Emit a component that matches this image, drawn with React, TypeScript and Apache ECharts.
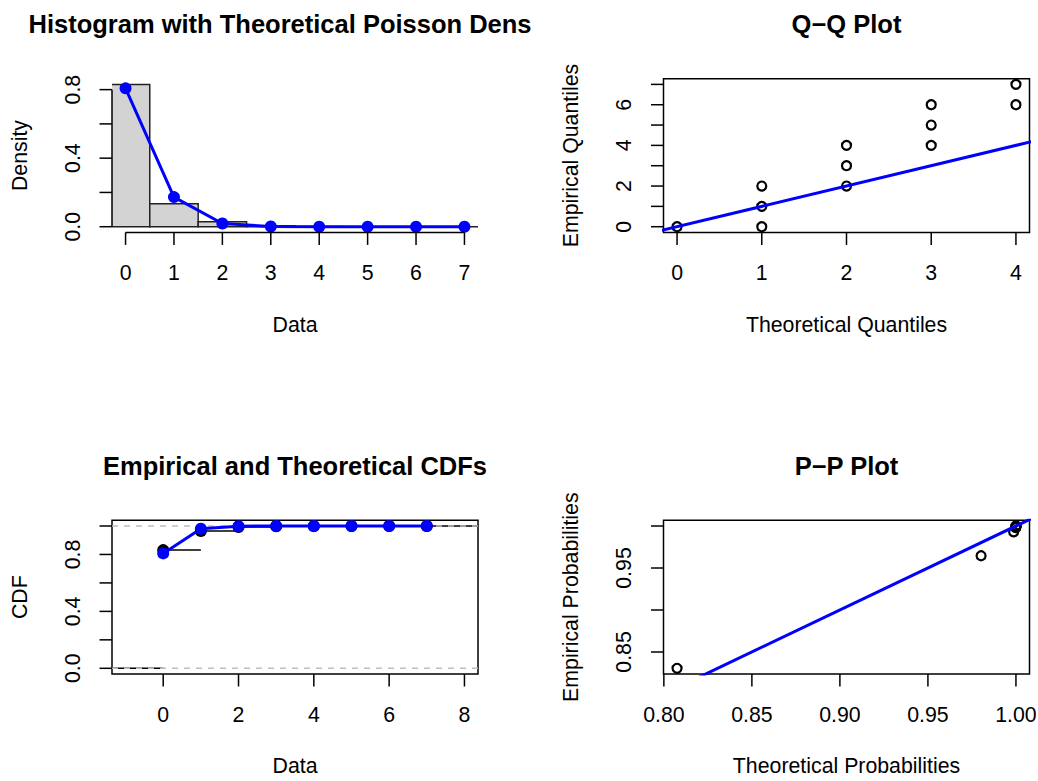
import React, { useEffect, useRef } from "react";
import * as echarts from "echarts";

// ---------------- data ----------------
const histValues = [0, 1, 2, 3, 4, 5, 6, 7];
const histBinWidth = 1;
const empDensity = [0.8306, 0.134, 0.0284, 0.005, 0.001, 0.0005, 0.0003, 0.0002];
const theoDensity = [0.8075, 0.1727, 0.0185, 0.0013, 0.0001, 0, 0, 0];

const qqTheoretical = [0, 1, 1, 1, 2, 2, 2, 3, 3, 3, 4, 4];
const qqEmpirical = [0, 0, 1, 2, 2, 3, 4, 4, 5, 6, 6, 7];

const cdfValues = [0, 1, 2, 3, 4, 5, 6, 7];
const empCdf = [0.8306, 0.9646, 0.993, 0.998, 0.999, 0.9995, 0.9998, 1];
const theoCdf = [0.8075, 0.9802, 0.9987, 0.9999, 1, 1, 1, 1];
const cdfRefLevels = [0, 1];

const ppTheoretical = [0.8075, 0.9802, 0.9987, 0.9999, 1, 1, 1, 1];
const ppEmpirical = [0.8306, 0.9646, 0.993, 0.998, 0.999, 0.9995, 0.9998, 1];

// y = x reference line (end points, clipped by the plot area)
const identityLine = [-2, 10];

// ---------------- ticks ----------------
const histXTicks = [0, 1, 2, 3, 4, 5, 6, 7];
const histXLabels = ["0", "1", "2", "3", "4", "5", "6", "7"];
const histYTicks = [0, 0.2, 0.4, 0.6, 0.8];
const histYLabels = ["0.0", "", "0.4", "", "0.8"];

const qqXTicks = [0, 1, 2, 3, 4];
const qqXLabels = ["0", "1", "2", "3", "4"];
const qqYTicks = [0, 1, 2, 3, 4, 5, 6, 7];
const qqYLabels = ["0", "", "2", "", "4", "", "6", ""];

const cdfXTicks = [0, 2, 4, 6, 8];
const cdfXLabels = ["0", "2", "4", "6", "8"];
const cdfYTicks = [0, 0.2, 0.4, 0.6, 0.8, 1.0];
const cdfYLabels = ["0.0", "", "0.4", "", "0.8", ""];

const ppXTicks = [0.8, 0.85, 0.9, 0.95, 1.0];
const ppXLabels = ["0.80", "0.85", "0.90", "0.95", "1.00"];
const ppYTicks = [0.85, 0.9, 0.95, 1.0];
const ppYLabels = ["0.85", "", "0.95", ""];

// ---------------- axis ranges (plot regions) ----------------
const histXRange = [-0.28, 7.28];
const histYRange = [-0.0332, 0.8638];
const qqXRange = [-0.16, 4.16];
const qqYRange = [-0.28, 7.28];
const cdfXRange = [-1.36, 8.36];
const cdfYRange = [-0.04, 1.04];
const ppXRange = [0.7998, 1.0077];
const ppYRange = [0.8238, 1.0068];

// ---------------- style ----------------
const FONT = "'Liberation Sans', Arial, Helvetica, sans-serif";
const FS = 21.3;
const TITLE_FS = 25.5;
const TICK_LEN = 12.5;
const XLAB_OFF = 41;
const YLAB_OFF = 39.2;
const LW = 1.5;
const BLUE = "#0000ff";

const PLOT_W = 366;
const PLOT_H = 153.7;
const COL_LEFT = [112, 663.5];
const ROW_TOP = [78.7, 520.3];

function xAxisMarks(gi: number, ticks: number[], labels: string[], yBase: number, withLine: boolean) {
  return {
    type: "custom",
    xAxisIndex: gi,
    yAxisIndex: gi,
    silent: true,
    clip: false,
    z: 10,
    data: ticks.map((t) => [t, yBase]),
    renderItem: (params: any, api: any) => {
      const p = api.coord([api.value(0), yBase]);
      const children: any[] = [
        {
          type: "line",
          shape: { x1: p[0], y1: p[1], x2: p[0], y2: p[1] + TICK_LEN },
          style: { stroke: "#000", lineWidth: LW },
        },
      ];
      const lab = labels[params.dataIndex];
      if (lab) {
        children.push({
          type: "text",
          x: p[0],
          y: p[1] + XLAB_OFF,
          style: { text: lab, fill: "#000", fontSize: FS, fontFamily: FONT, align: "center", verticalAlign: "middle" },
        });
      }
      if (withLine && params.dataIndex === 0) {
        const a = api.coord([ticks[0], yBase]);
        const b = api.coord([ticks[ticks.length - 1], yBase]);
        children.push({
          type: "line",
          shape: { x1: a[0], y1: a[1], x2: b[0], y2: b[1] },
          style: { stroke: "#000", lineWidth: LW },
        });
      }
      return { type: "group", children };
    },
  };
}

function yAxisMarks(gi: number, ticks: number[], labels: string[], xBase: number, withLine: boolean) {
  return {
    type: "custom",
    xAxisIndex: gi,
    yAxisIndex: gi,
    silent: true,
    clip: false,
    z: 10,
    data: ticks.map((t) => [xBase, t]),
    renderItem: (params: any, api: any) => {
      const p = api.coord([xBase, api.value(1)]);
      const children: any[] = [
        {
          type: "line",
          shape: { x1: p[0] - TICK_LEN, y1: p[1], x2: p[0], y2: p[1] },
          style: { stroke: "#000", lineWidth: LW },
        },
      ];
      const lab = labels[params.dataIndex];
      if (lab) {
        children.push({
          type: "text",
          x: p[0] - YLAB_OFF,
          y: p[1],
          rotation: Math.PI / 2,
          style: { text: lab, fill: "#000", fontSize: FS, fontFamily: FONT, align: "center", verticalAlign: "middle" },
        });
      }
      if (withLine && params.dataIndex === 0) {
        const a = api.coord([xBase, ticks[0]]);
        const b = api.coord([xBase, ticks[ticks.length - 1]]);
        children.push({
          type: "line",
          shape: { x1: a[0], y1: a[1], x2: b[0], y2: b[1] },
          style: { stroke: "#000", lineWidth: LW },
        });
      }
      return { type: "group", children };
    },
  };
}

function titleText(text: string, x: number, y: number, align: string = "center") {
  return {
    type: "text",
    x,
    y,
    silent: true,
    style: { text, fill: "#000", fontSize: TITLE_FS, fontWeight: "bold", fontFamily: FONT, align, verticalAlign: "middle" },
  };
}

function axisTitle(text: string, x: number, y: number, rotated = false) {
  return {
    type: "text",
    x,
    y,
    rotation: rotated ? Math.PI / 2 : 0,
    silent: true,
    style: { text, fill: "#000", fontSize: FS, fontFamily: FONT, align: "center", verticalAlign: "middle" },
  };
}

export default function App() {
  const ref = useRef<HTMLDivElement>(null);

  useEffect(() => {
    if (!ref.current) return;
    const chart = echarts.init(ref.current, undefined, { renderer: "svg" });

    const grids = [0, 1, 2, 3].map((i) => {
      const col = i % 2;
      const row = Math.floor(i / 2);
      return {
        left: COL_LEFT[col],
        top: ROW_TOP[row],
        width: PLOT_W,
        height: PLOT_H,
        show: i !== 0,
        borderColor: "#000",
        borderWidth: LW,
        backgroundColor: "transparent",
        containLabel: false,
        outerBoundsMode: "none",
      };
    });

    const xRanges = [histXRange, qqXRange, cdfXRange, ppXRange];
    const yRanges = [histYRange, qqYRange, cdfYRange, ppYRange];

    const hiddenAxis = (gi: number, r: number[]) => ({
      type: "value",
      gridIndex: gi,
      min: r[0],
      max: r[1],
      show: false,
      axisLine: { show: false },
      axisTick: { show: false },
      axisLabel: { show: false },
      splitLine: { show: false },
    });

    const openCircle = { color: "rgba(0,0,0,0)", borderColor: "#000", borderWidth: 2.2, opacity: 1 };

    const series: any[] = [];

    // ---------- Panel 1: histogram ----------
    series.push({
      type: "custom",
      xAxisIndex: 0,
      yAxisIndex: 0,
      clip: true,
      silent: true,
      z: 2,
      data: histValues.map((v, i) => [v, empDensity[i]]),
      renderItem: (params: any, api: any) => {
        const x = api.value(0);
        const h = api.value(1);
        const p0 = api.coord([x - histBinWidth / 2, h]);
        const p1 = api.coord([x + histBinWidth / 2, 0]);
        return {
          type: "rect",
          shape: { x: p0[0], y: p0[1], width: p1[0] - p0[0], height: p1[1] - p0[1] },
          style: { fill: "#d3d3d3", stroke: "#222", lineWidth: LW },
        };
      },
    });
    series.push({
      type: "line",
      xAxisIndex: 0,
      yAxisIndex: 0,
      data: histValues.map((v, i) => [v, theoDensity[i]]),
      symbol: "circle",
      symbolSize: 12,
      showSymbol: true,
      lineStyle: { color: BLUE, width: 3 },
      itemStyle: { color: BLUE, opacity: 1 },
      z: 5,
      silent: true,
    });
    series.push(xAxisMarks(0, histXTicks, histXLabels, histYRange[0], true));
    series.push(yAxisMarks(0, histYTicks, histYLabels, histXRange[0], true));

    // ---------- Panel 2: Q-Q ----------
    series.push({
      type: "scatter",
      xAxisIndex: 1,
      yAxisIndex: 1,
      data: qqTheoretical.map((v, i) => [v, qqEmpirical[i]]),
      symbol: "circle",
      symbolSize: 9,
      itemStyle: openCircle,
      z: 3,
      silent: true,
    });
    series.push({
      type: "line",
      xAxisIndex: 1,
      yAxisIndex: 1,
      data: identityLine.map((v) => [v, v]),
      showSymbol: false,
      symbol: "none",
      lineStyle: { color: BLUE, width: 3 },
      clip: true,
      z: 4,
      silent: true,
    });
    series.push(xAxisMarks(1, qqXTicks, qqXLabels, qqYRange[0], false));
    series.push(yAxisMarks(1, qqYTicks, qqYLabels, qqXRange[0], false));

    // ---------- Panel 3: CDFs ----------
    const ecdfSegments = [
      [cdfXRange[0], cdfValues[0], 0],
      ...cdfValues.map((v, i) => [v, i + 1 < cdfValues.length ? cdfValues[i + 1] : cdfXRange[1], empCdf[i]]),
    ];
    series.push({
      type: "custom",
      xAxisIndex: 2,
      yAxisIndex: 2,
      clip: true,
      silent: true,
      z: 2,
      data: ecdfSegments,
      renderItem: (params: any, api: any) => {
        const a = api.coord([api.value(0), api.value(2)]);
        const b = api.coord([api.value(1), api.value(2)]);
        return {
          type: "line",
          shape: { x1: a[0], y1: a[1], x2: b[0], y2: b[1] },
          style: { stroke: "#000", lineWidth: LW },
        };
      },
    });
    cdfRefLevels.forEach((lvl) => {
      series.push({
        type: "line",
        xAxisIndex: 2,
        yAxisIndex: 2,
        data: [
          [cdfXRange[0], lvl],
          [cdfXRange[1], lvl],
        ],
        showSymbol: false,
        symbol: "none",
        lineStyle: { color: "#bebebe", width: LW, type: [6, 6] },
        z: 3,
        silent: true,
      });
    });
    series.push({
      type: "scatter",
      xAxisIndex: 2,
      yAxisIndex: 2,
      data: cdfValues.map((v, i) => [v, empCdf[i]]),
      symbol: "circle",
      symbolSize: 12,
      itemStyle: { color: "#000", opacity: 1 },
      z: 4,
      silent: true,
    });
    series.push({
      type: "line",
      xAxisIndex: 2,
      yAxisIndex: 2,
      data: cdfValues.map((v, i) => [v, theoCdf[i]]),
      symbol: "circle",
      symbolSize: 12,
      showSymbol: true,
      lineStyle: { color: BLUE, width: 3 },
      itemStyle: { color: BLUE, opacity: 1 },
      z: 5,
      silent: true,
    });
    series.push(xAxisMarks(2, cdfXTicks, cdfXLabels, cdfYRange[0], false));
    series.push(yAxisMarks(2, cdfYTicks, cdfYLabels, cdfXRange[0], false));

    // ---------- Panel 4: P-P ----------
    series.push({
      type: "scatter",
      xAxisIndex: 3,
      yAxisIndex: 3,
      data: ppTheoretical.map((v, i) => [v, ppEmpirical[i]]),
      symbol: "circle",
      symbolSize: 9,
      itemStyle: openCircle,
      z: 3,
      silent: true,
    });
    series.push({
      type: "line",
      xAxisIndex: 3,
      yAxisIndex: 3,
      data: identityLine.map((v) => [v, v]),
      showSymbol: false,
      symbol: "none",
      lineStyle: { color: BLUE, width: 3 },
      clip: true,
      z: 4,
      silent: true,
    });
    series.push(xAxisMarks(3, ppXTicks, ppXLabels, ppYRange[0], false));
    series.push(yAxisMarks(3, ppYTicks, ppYLabels, ppXRange[0], false));

    const cx = COL_LEFT.map((l) => l + PLOT_W / 2);
    const cy = ROW_TOP.map((t) => t + PLOT_H / 2);

    const option: any = {
      animation: false,
      backgroundColor: "#ffffff",
      grid: grids,
      xAxis: xRanges.map((r, i) => hiddenAxis(i, r)),
      yAxis: yRanges.map((r, i) => hiddenAxis(i, r)),
      series,
      graphic: [
        titleText("Histogram with Theoretical Poisson Dens", 28.5, 24.3, "left"),
        titleText("Q\u2212Q Plot", cx[1], 24.3),
        titleText("Empirical and Theoretical CDFs", cx[0], 465.7),
        titleText("P\u2212P Plot", cx[1], 465.7),
        axisTitle("Data", cx[0], 324.7),
        axisTitle("Theoretical Quantiles", cx[1], 324.7),
        axisTitle("Data", cx[0], 766.4),
        axisTitle("Theoretical Probabilities", cx[1], 766.4),
        axisTitle("Density", 20, cy[0], true),
        axisTitle("Empirical Quantiles", 571.3, cy[0], true),
        axisTitle("CDF", 20, cy[1], true),
        axisTitle("Empirical Probabilities", 571.3, cy[1], true),
      ],
    };

    chart.setOption(option);
    return () => {
      chart.dispose();
    };
  }, []);

  return (
    <div
      ref={ref}
      style={{ position: "fixed", left: 0, top: 0, width: 1038, height: 781, background: "#fff" }}
    />
  );
}
